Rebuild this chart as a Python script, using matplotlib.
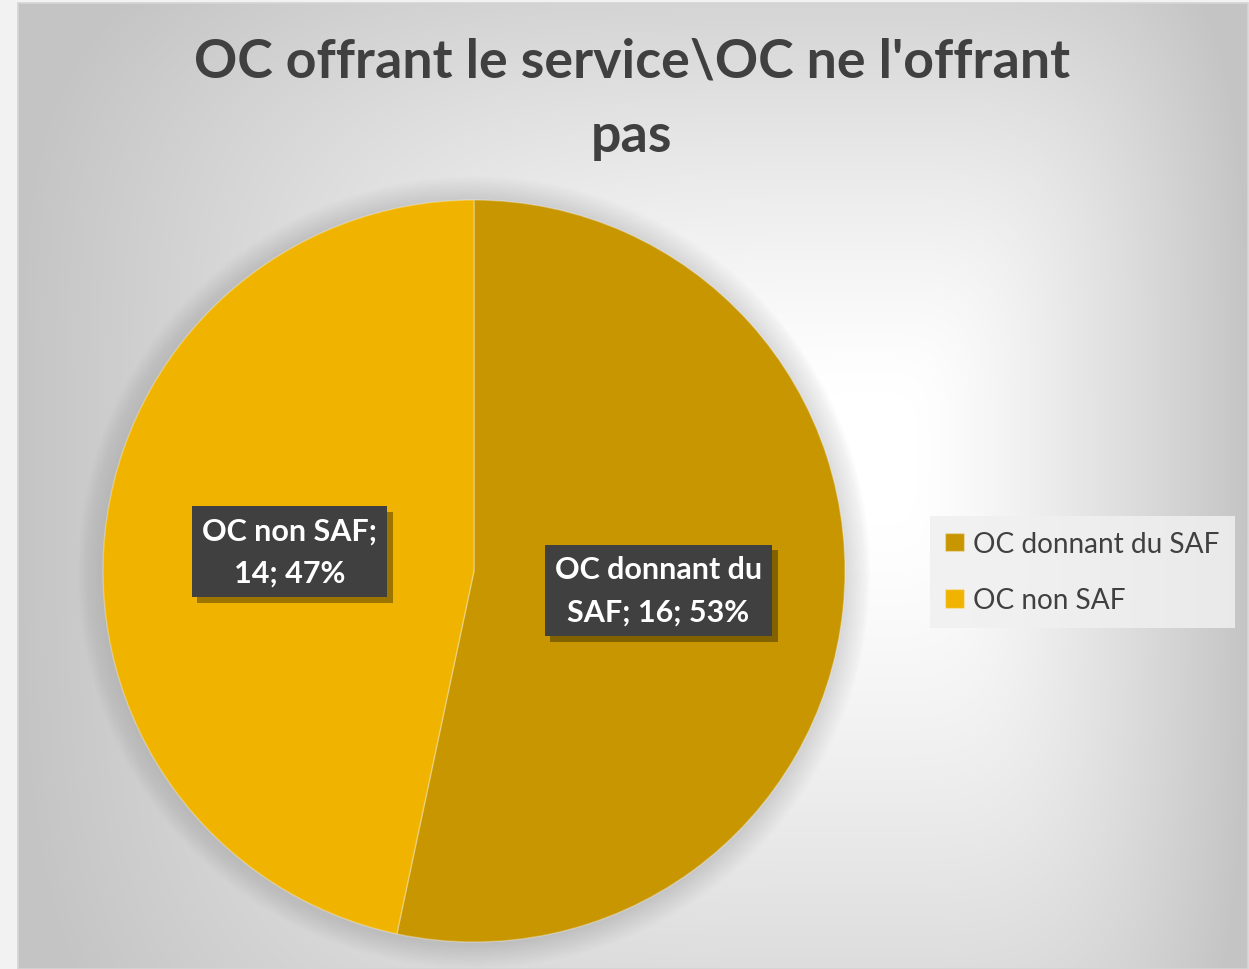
import textwrap
import numpy as np
import matplotlib.pyplot as plt
import matplotlib.patheffects as pe
from matplotlib.patches import Circle, Rectangle

# data
categories = ["OC donnant du SAF", "OC non SAF"]
counts = [16, 14]
colors = ["#C89600", "#F0B400"]
title = "OC offrant le service\\OC ne l'offrant\npas"

W, H = 1249, 970
fig = plt.figure(figsize=(W / 100, H / 100), dpi=100, facecolor="#F2F2F2")

# chart panel with grey "from centre" gradient
px0, px1, py0, py1 = 18, 1248, 4, 970
bg = fig.add_axes([px0 / W, 0, (px1 - px0) / W, (py1 - py0) / H])
xs, ys = np.meshgrid(np.arange(px0, px1) + 0.5, np.arange(py0, py1) + 0.5)
gx, gy = 880, 450
dx = np.where(xs > gx, (xs - gx) / (px1 - gx), (gx - xs) / (gx - px0))
dy = np.where(ys > gy, (ys - gy) / 760.0, (gy - ys) / 560.0)
r = (dx ** 4 + dy ** 4) ** 0.25
t = np.clip((r - 0.1) / 0.9, 0, 1) ** 1.25
shade = 1.0 - t * (1.0 - 0.77)
bg.imshow(np.dstack([shade, shade, shade]), extent=(px0, px1, py1, py0), aspect="auto", interpolation="bilinear")
bg.set_xlim(px0, px1)
bg.set_ylim(py1, py0)
bg.axis("off")
fig.patches.append(Rectangle((px0 / W, 0), (px1 - px0) / W, (py1 - py0) / H, transform=fig.transFigure,
                             fill=False, edgecolor="#D4D4D4", linewidth=1.2))

# pie
cx, cy, R = 474, 572, 371
ax = fig.add_axes([(cx - R) / W, (H - cy - R) / H, 2 * R / W, 2 * R / H])
for k in range(1, 16):
    ax.add_patch(Circle((0, -0.004), 1 + 0.0045 * k, facecolor="#8C8C8C", edgecolor="none",
                        alpha=0.02, zorder=0, clip_on=False))
wedges, _ = ax.pie(counts, colors=colors, startangle=90, counterclock=False, radius=1,
                   wedgeprops=dict(edgecolor=(1, 1, 1, 0.3), linewidth=1))
ax.set_xlim(-1, 1)
ax.set_ylim(-1, 1)
ax.axis("off")

total = sum(counts)
for w, cat, n in zip(wedges, categories, counts):
    ang = np.deg2rad((w.theta1 + w.theta2) / 2)
    pct = round(100 * n / total)
    lab = textwrap.fill("%s; %d; %d%%" % (cat, n, pct), width=14)
    txt = ax.text(0.5 * np.cos(ang), 0.5 * np.sin(ang), lab, ha="center", va="center",
                  color="white", fontsize=22, fontweight="bold", family="Lato", linespacing=1.65,
                  bbox=dict(boxstyle="square,pad=0.33", facecolor="#404040", edgecolor="none"), zorder=5)
    txt.get_bbox_patch().set_path_effects([pe.SimplePatchShadow(offset=(4, -4), shadow_rgbFace="black", alpha=0.35),
                                           pe.Normal()])

# title
fig.text(632 / W, 1 - 38 / H, title, ha="center", va="top", fontsize=38.6, fontweight="bold",
         color="#404040", family="Lato", linespacing=1.63)

# legend
leg = fig.legend(wedges, categories, loc="center left", bbox_to_anchor=(930 / W, 1 - 573 / H),
                 prop=dict(family="Lato", size=20.2), labelcolor="#404040", handlelength=0.65, handleheight=0.65,
                 handletextpad=0.35, labelspacing=1.07, borderpad=0.55, borderaxespad=0, fancybox=False,
                 facecolor="#F0F0F0", edgecolor="none", framealpha=0.85)

fig.savefig("out.png", dpi=100, facecolor=fig.get_facecolor())
